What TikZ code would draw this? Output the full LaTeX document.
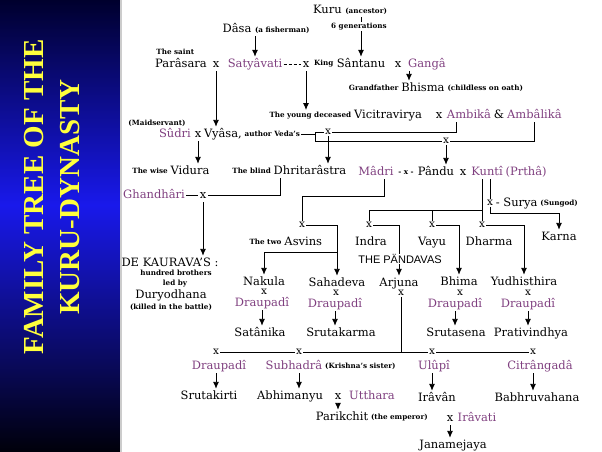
\documentclass[tikz,border=0pt]{standalone}
\usepackage{fontspec}
\setmainfont{DejaVu Serif}
\newfontfamily\titlefont{Liberation Serif}
\newfontfamily\pandfont{Liberation Sans}
\usetikzlibrary{arrows.meta}

\definecolor{wifecol}{RGB}{128,64,128}
\definecolor{bandtop}{RGB}{0,0,45}
\definecolor{bandglow}{RGB}{25,25,235}
\definecolor{bandbot}{RGB}{0,0,10}
\definecolor{titleyel}{RGB}{255,255,60}

\newcommand{\smallnote}{\fontsize{7.2}{8}\selectfont\bfseries}

\begin{document}
\begin{tikzpicture}[x=1pt,y=-1pt,line width=0.9pt,
  every node/.style={inner sep=1pt},
  person/.style={font=\fontsize{11.5}{13}\selectfont,text height=9pt,text depth=2.5pt},
  wife/.style={person,text=wifecol},
  note/.style={font=\smallnote,text height=5.5pt,text depth=1.5pt},
  xsign/.style={person},
  xjoin/.style={font=\fontsize{10.5}{11}\selectfont,text height=5pt,text depth=0pt},
  title/.style={font=\titlefont\bfseries\fontsize{29}{31}\selectfont,text=titleyel,rotate=90},
  arr/.style={-{Latex[length=7pt,width=6pt]}}]

\useasboundingbox (0,0) rectangle (602,452);
\fill[white] (0,0) rectangle (602,452);

% side band with title
\shade[top color=bandtop,bottom color=bandglow] (0,0) rectangle (120,205);
\shade[top color=bandglow,bottom color=bandbot] (0,205) rectangle (120,452);
\fill[gray!40] (120,0) rectangle (121.5,452);
\node[title] (title1) at (34,197) {FAMILY TREE OF THE};
\node[title] (title2) at (70,197) {KURU-DYNASTY};

% ancestors
\node[person] (kuru) at (350,10) {Kuru {\smallnote (ancestor)}};
\node[person] (dasa) at (266,29) {Dâsa {\smallnote (a fisherman)}};
\node[note,anchor=west] (saint) at (155,53) {The saint};
\node[person] (parasara) at (181,64) {Parâsara};
\node[xsign] (xps) at (216,64) {x};
\node[wife] (satya) at (255,64) {Satyâvati};
\node[xsign] (xss) at (306,64) {x};
\node[note,anchor=west] (king) at ([xshift=2pt]xss.east) {King};
\node[person] (santanu) at (361,64) {Sântanu};
\node[xsign] (xsg) at (398,64) {x};
\node[wife] (ganga) at (427,64) {Gangâ};
\node[person] (bhisma) at (423,88) {Bhisma};
\node[note,anchor=east] (grandpa) at (bhisma.west) {Grandfather};
\node[note,anchor=west] (oath) at (bhisma.east) {(childless on oath)};

\draw[arr] (kuru.south -| santanu.north) -- (santanu.north);
\node[note,fill=white] (gen) at (359,27) {6 generations};
\draw[arr] (dasa.south -| satya.north) -- (satya.north);
\draw[densely dashed,line width=0.6pt] (satya.east) -- (xss.west);
\draw[arr] ([xshift=11pt]xsg.south) -- ([xshift=11pt]xsg.south |- bhisma.north);

% second generation
\node[person] (vicitra) at (388,115) {Vicitravirya};
\node[note,anchor=east] (young) at (vicitra.west) {The young deceased};
\node[xsign] (xva) at (439,115) {x};
\node[wife] (ambika) at (469,115) {Ambikâ};
\node[person,anchor=west] (amp) at (ambika.east) {\&};
\node[wife,anchor=west] (ambalika) at (amp.east) {Ambâlikâ};
\node[note] (maid) at (157,123) {(Maidservant)};
\node[wife] (sudri) at (175,134) {Sûdri};
\node[xsign] (xsv) at (198,134) {x};
\node[person] (vyasa) at (223,134) {Vyâsa,};
\node[note,anchor=west] (author) at (vyasa.east) {author Veda's};
\node[xjoin] (xvy1) at (328,132) {x};
\node[xjoin] (xvy2) at (446,141) {x};
\coordinate (brk) at (315,0);

\draw[arr] (xps.south) -- (xps.south |- vyasa.north);
\draw[arr] (xss.south) -- (xss.south |- young.north);
\draw (author.east) -- (author.east -| brk);
\draw (xvy1.west) -- (xvy1.west -| brk) -- (xvy2.west -| brk) -- (xvy2.west);
\draw (xvy1.east) -| ([xshift=-13pt]ambika.south);
\draw (xvy2.east) -| (ambalika.south);

% third generation
\node[person] (vidura) at (190,171) {Vidura};
\node[note,anchor=east] (wise) at (vidura.west) {The wise};
\node[person] (dhrita) at (310,171) {Dhritarâstra};
\node[note,anchor=east] (blind) at (dhrita.west) {The blind};
\node[wife] (madri) at (376,172) {Mâdri};
\node[note] (xmp) at (406,172) {- x -};
\node[person] (pandu) at (436,172) {Pându};
\node[xsign] (xpk) at (463,172) {x};
\node[wife] (kunti) at (487,172) {Kuntî};
\node[wife,anchor=west] (prtha) at (kunti.east) {(Prthâ)};
\node[wife] (ghandhari) at (154,195) {Ghandhâri};
\node[xsign] (xgd) at (203,195) {x};
\node[xjoin] (xsu) at (490,203) {x};
\node[person,anchor=west] (surya) at (xsu.east) {{-} Surya};
\node[note,anchor=west] (sungod) at (surya.east) {(Sungod)};

\draw[arr] (xsv.south) -- (xsv.south |- vidura.north);
\draw[arr] (xvy1.south) -- (xvy1.south |- dhrita.north);
\draw[arr] (xvy2.south) -- (xvy2.south |- pandu.north);
\draw (ghandhari.east) -- (xgd.west);
\draw ([xshift=-30pt]dhrita.south) |- (xgd.east);

% the Kauravas
\node[person] (kaurava) at (170,263) {DE KAURAVA'S :};
\node[note] (hundred) at (176,273) {hundred brothers};
\node[note] (ledby) at (175,283) {led by};
\node[person] (duryo) at (171,295) {Duryodhana};
\node[note] (killed) at (171,307) {(killed in the battle)};
\draw[arr] (xgd.south) -- (xgd.south |- kaurava.north);

% the gods
\node[xjoin] (xas) at (302,225) {x};
\node[xjoin] (xin) at (369,225) {x};
\node[xjoin] (xvyu) at (432,225) {x};
\node[xjoin] (xdh) at (482,225) {x};
\node[person,anchor=west] (asvins) at (283,242) {Asvins};
\node[note,anchor=east] (twoof) at (asvins.west) {The two};
\node[person] (indra) at (371,242) {Indra};
\node[person] (vayu) at (432,242) {Vayu};
\node[person] (dharma) at (489,242) {Dharma};
\node[person] (karna) at (559,237) {Karna};

% the Pandavas
\node[person] (nakula) at (264,282) {Nakula};
\node[person] (sahadeva) at (337,283) {Sahadeva};
\node[person] (arjuna) at (399,283) {Arjuna};
\node[person] (bhima) at (459,282) {Bhima};
\node[person] (yudhi) at (524,282) {Yudhisthira};
\node[xjoin] (xn) at (264,292) {x};
\node[xjoin] (xs) at (336,293) {x};
\node[xjoin] (xa) at (401,293) {x};
\node[xjoin] (xb) at (460,293) {x};
\node[xjoin] (xy) at (528,293) {x};
\node[wife] (drn) at (262,303) {Draupadî};
\node[wife] (drs) at (335,304) {Draupadî};
\node[wife] (drb) at (455,304) {Draupadî};
\node[wife] (dry) at (528,304) {Draupadî};

\draw ([xshift=8pt]madri.south) -- ++(0,17) -| (xas.north);
\draw[arr] (xas.east) -| (sahadeva.north);
\draw[arr] (sahadeva.north |- 0,252) -| (nakula.north);
\draw (kunti.south -| xdh.north) -- (xdh.north);
\draw (xdh.north |- 0,210) -| (xin.north);
\draw (xvyu.north |- 0,210) -- (xvyu.north);
\draw (kunti.south -| xsu.north) -- (xsu.north);
\draw[arr] (xsu.south) -- (xsu.south |- 0,213) -| (karna.north);
\draw[arr] (xin.east) -| (arjuna.north);
\draw[arr] (xvyu.east) -| (bhima.north);
\draw[arr] (xdh.east) -| (yudhi.north);
\node[font=\pandfont\fontsize{11}{12}\selectfont,fill=white,inner sep=0.5pt] (pandavas) at (400,259) {THE PÄNDAVAS};

% fifth generation
\node[person] (satanika) at (260,333) {Satânika};
\node[person] (srutakarma) at (341,333) {Srutakarma};
\node[person] (srutasena) at (456,333) {Srutasena};
\node[person] (prati) at (531,333) {Prativindhya};
\draw[arr] (drn.south) -- (drn.south |- satanika.north);
\draw[arr] (drs.south) -- (drs.south |- srutakarma.north);
\draw[arr] (drb.south) -- (drb.south |- srutasena.north);
\draw[arr] (dry.south) -- (dry.south |- prati.north);

% Arjuna's wives
\node[xjoin] (xd1) at (216,352) {x};
\node[xjoin] (xsb) at (299,352) {x};
\node[xjoin] (xul) at (432,352) {x};
\node[xjoin] (xci) at (533,352) {x};
\draw (xa.south) -- (xa.south |- xul.west);
\draw (xd1.east) -- (xsb.west) (xsb.east) -- (xul.west) (xul.east) -- (xci.west);

\node[wife] (dr4) at (219,366) {Draupadî};
\node[wife] (subhadra) at (294,366) {Subhadrâ};
\node[note,anchor=west] (krishna) at (subhadra.east) {(Krishna's sister)};
\node[wife] (ulupi) at (434,366) {Ulûpî};
\node[wife] (citra) at (540,366) {Citrângadâ};

\node[person] (srutakirti) at (209,396) {Srutakirti};
\node[person] (abhimanyu) at (290,396) {Abhimanyu};
\node[xsign] (xab) at (338,396) {x};
\node[wife] (utthara) at (372,396) {Utthara};
\node[person] (iravan) at (437,398) {Irâvân};
\node[person] (babhru) at (537,398) {Babhruvahana};

\draw[arr] (xd1 |- dr4.south) -- (xd1 |- srutakirti.north);
\draw[arr] (xsb |- subhadra.south) -- (xsb |- abhimanyu.north);
\draw[arr] (xul |- ulupi.south) -- (xul |- iravan.north);
\draw[arr] (xci |- citra.south) -- (xci |- babhru.north);

\node[person] (parik) at (342,417) {Parikchit};
\node[note,anchor=west] (emperor) at (parik.east) {(the emperor)};
\node[xsign] (xpi) at (450,418) {x};
\node[wife] (iravati) at (477,418) {Irâvati};
\node[person] (jana) at (453,445) {Janamejaya};
\draw[arr] (xab.south) -- (xab.south |- parik.north);
\draw[arr] (xpi.south) -- (xpi.south |- jana.north);
\end{tikzpicture}
\end{document}
